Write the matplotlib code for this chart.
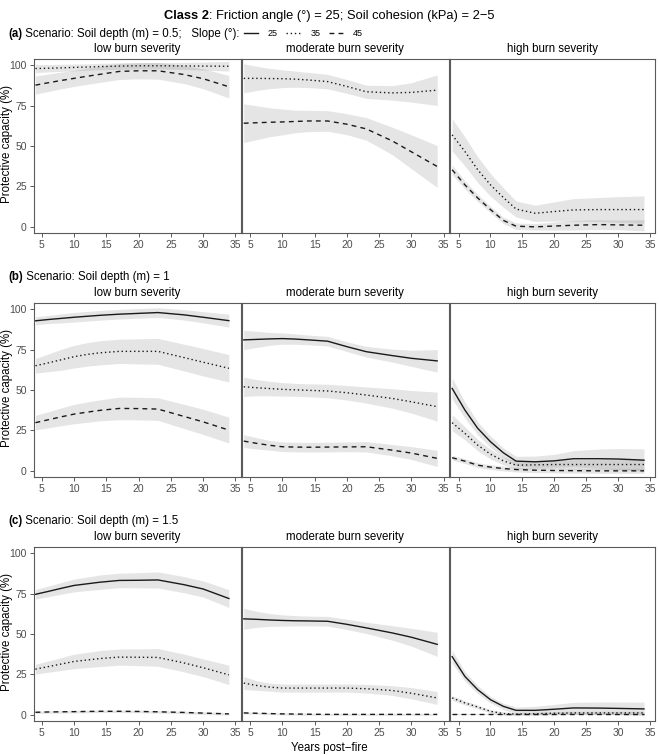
import matplotlib
matplotlib.use("Agg")
import matplotlib.pyplot as plt
import numpy as np
from matplotlib.lines import Line2D

plt.rcParams["font.family"] = ["Liberation Sans", "DejaVu Sans"]

# ---- data ------------------------------------------------------------------
years = [4, 6, 8, 10, 12, 14, 17, 20, 23, 27, 30, 34]
severities = ["low burn severity", "moderate burn severity", "high burn severity"]
slopes = [25, 35, 45]
depths = ["0.5", "1", "1.5"]
x_ticks = [5, 10, 15, 20, 25, 30, 35]
y_ticks = [0, 25, 50, 75, 100]

# soil depth 0.5 m (no 25 deg curve drawn)
d05_low_35 = [98.1, 98.3, 98.5, 98.8, 99.0, 99.3, 99.6, 99.8, 99.8, 99.7, 99.6, 99.5]
d05_low_35_ci = [2.5, 2.3, 2.2, 2.1, 2.0, 2.0, 2.0, 2.0, 2.0, 2.2, 2.5, 3.0]
d05_low_45 = [87.8, 89.3, 90.7, 92.0, 93.3, 94.5, 96.3, 96.7, 96.7, 94.4, 91.8, 86.8]
d05_low_45_ci = [5.6, 5.4, 5.2, 5.0, 5.0, 5.0, 5.0, 5.0, 5.2, 5.6, 6.2, 7.0]
d05_mod_35 = [92.0, 92.0, 91.9, 91.8, 91.5, 91.0, 90.0, 87.0, 83.7, 83.0, 83.3, 84.7]
d05_mod_35_ci = [9.0, 7.5, 6.3, 5.5, 5.0, 4.7, 4.5, 4.3, 4.1, 4.5, 6.0, 9.5]
d05_mod_45 = [64.2, 64.5, 64.8, 65.0, 65.3, 65.6, 65.6, 63.6, 60.7, 53.3, 46.5, 37.4]
d05_mod_45_ci = [12.0, 10.5, 9.0, 8.0, 7.0, 6.6, 6.4, 6.5, 7.0, 8.5, 10.5, 13.0]
d05_high_35 = [57.0, 46.7, 35.4, 26.0, 18.2, 11.0, 8.4, 9.5, 10.5, 10.7, 10.7, 10.7]
d05_high_35_ci = [10.0, 9.0, 8.0, 7.0, 6.0, 5.0, 5.0, 6.0, 7.0, 7.5, 8.0, 8.5]
d05_high_45 = [35.4, 26.0, 17.9, 10.7, 4.0, 0.4, 0.0, 0.5, 1.0, 1.4, 1.2, 1.0]
d05_high_45_ci = [3.0, 2.5, 2.2, 2.0, 2.0, 2.0, 2.0, 2.5, 3.0, 3.0, 3.0, 3.5]

# soil depth 1 m
d1_low_25 = [92.8, 93.6, 94.3, 95.0, 95.6, 96.2, 96.9, 97.4, 97.9, 96.5, 95.0, 92.9]
d1_low_25_ci = [2.5, 2.5, 2.8, 3.0, 3.0, 3.0, 3.0, 3.0, 3.0, 3.2, 3.5, 4.0]
d1_low_35 = [65.0, 66.8, 68.7, 70.6, 72.0, 73.0, 73.9, 73.9, 73.9, 70.1, 67.2, 63.4]
d1_low_35_ci = [4.5, 5.5, 6.5, 7.0, 7.3, 7.5, 7.5, 7.8, 8.0, 8.3, 8.5, 8.5]
d1_low_45 = [29.8, 31.6, 33.4, 35.1, 36.3, 37.4, 38.6, 38.5, 38.2, 33.7, 30.3, 25.2]
d1_low_45_ci = [4.5, 5.0, 5.5, 6.0, 6.3, 6.5, 7.0, 7.0, 7.0, 7.5, 7.8, 8.0]
d1_mod_25 = [81.0, 81.3, 81.6, 81.8, 81.5, 81.0, 80.2, 76.8, 73.7, 71.3, 69.6, 68.0]
d1_mod_25_ci = [6.0, 5.0, 4.0, 3.5, 3.2, 3.0, 3.0, 3.0, 3.3, 4.0, 5.0, 7.0]
d1_mod_35 = [52.0, 51.4, 50.9, 50.4, 50.1, 49.8, 49.4, 48.3, 46.9, 44.8, 42.7, 39.7]
d1_mod_35_ci = [6.0, 5.0, 4.5, 4.2, 4.0, 4.0, 4.2, 4.5, 5.0, 6.0, 7.0, 9.0]
d1_mod_45 = [18.4, 17.0, 15.8, 14.9, 14.7, 14.6, 14.7, 14.8, 14.9, 12.8, 11.0, 7.7]
d1_mod_45_ci = [4.0, 3.5, 3.0, 3.0, 3.0, 3.0, 3.0, 3.0, 3.2, 3.5, 4.0, 5.0]
d1_high_25 = [51.0, 37.6, 26.3, 18.0, 11.2, 6.0, 5.6, 6.2, 7.5, 7.5, 7.3, 6.6]
d1_high_25_ci = [6.5, 5.0, 4.0, 3.5, 3.0, 3.0, 3.5, 4.0, 5.0, 6.0, 6.5, 7.0]
d1_high_35 = [29.8, 23.2, 15.9, 10.3, 6.2, 3.5, 3.7, 3.9, 3.9, 3.9, 3.9, 3.9]
d1_high_35_ci = [5.0, 4.0, 3.5, 3.0, 2.5, 2.5, 2.5, 2.5, 3.0, 3.0, 3.0, 3.5]
d1_high_45 = [8.1, 6.0, 3.5, 2.3, 1.4, 0.8, 0.4, 0.2, 0.1, 0.0, 0.0, 0.0]
d1_high_45_ci = [1.5, 1.5, 1.5, 1.5, 1.5, 1.5, 1.5, 1.5, 1.5, 1.5, 1.5, 1.5]

# soil depth 1.5 m
d15_low_25 = [74.5, 76.3, 78.2, 80.0, 81.0, 82.0, 83.1, 83.2, 83.4, 80.5, 77.8, 71.9]
d15_low_25_ci = [3.0, 3.3, 3.6, 4.0, 4.2, 4.5, 4.5, 4.7, 5.0, 5.0, 5.0, 5.5]
d15_low_35 = [28.1, 29.7, 31.3, 32.9, 33.8, 34.7, 35.6, 35.5, 35.4, 32.0, 29.0, 24.6]
d15_low_35_ci = [3.0, 3.5, 4.0, 4.5, 4.7, 5.0, 5.0, 5.2, 5.5, 5.5, 5.5, 6.0]
d15_low_45 = [1.4, 1.6, 1.7, 1.8, 1.9, 2.0, 2.0, 1.9, 1.7, 1.3, 0.9, 0.4]
d15_low_45_ci = [0.8, 0.8, 0.8, 0.8, 0.8, 0.8, 0.8, 0.8, 0.8, 0.8, 0.8, 0.8]
d15_mod_25 = [59.3, 59.0, 58.6, 58.3, 58.1, 58.0, 57.8, 55.9, 53.7, 50.6, 47.9, 43.5]
d15_mod_25_ci = [6.5, 5.0, 4.0, 3.5, 3.2, 3.0, 3.0, 3.2, 3.5, 4.5, 5.5, 7.5]
d15_mod_35 = [19.5, 18.0, 17.0, 16.4, 16.4, 16.4, 16.4, 16.4, 16.0, 14.9, 13.2, 10.3]
d15_mod_35_ci = [4.0, 3.0, 2.5, 2.5, 2.5, 2.5, 2.5, 2.5, 2.7, 3.0, 3.5, 4.0]
d15_mod_45 = [1.0, 0.8, 0.6, 0.4, 0.3, 0.2, 0.1, 0.1, 0.1, 0.1, 0.1, 0.1]
d15_mod_45_ci = [0.6, 0.6, 0.6, 0.6, 0.6, 0.6, 0.6, 0.6, 0.6, 0.6, 0.6, 0.6]
d15_high_25 = [35.9, 23.6, 15.4, 9.2, 5.1, 2.6, 2.6, 3.3, 4.1, 4.0, 3.8, 3.5]
d15_high_25_ci = [4.0, 3.0, 2.5, 2.0, 2.0, 2.0, 2.5, 3.0, 3.5, 3.8, 4.0, 4.2]
d15_high_35 = [10.3, 7.2, 4.7, 2.0, 0.6, 0.3, 0.5, 0.8, 1.0, 1.0, 1.0, 1.0]
d15_high_35_ci = [1.5, 1.3, 1.2, 1.0, 1.0, 1.0, 1.0, 1.0, 1.0, 1.0, 1.0, 1.0]
d15_high_45 = [0.1, 0.1, 0.1, 0.1, 0.1, 0.1, 0.1, 0.1, 0.1, 0.1, 0.1, 0.1]
d15_high_45_ci = [0.4, 0.4, 0.4, 0.4, 0.4, 0.4, 0.4, 0.4, 0.4, 0.4, 0.4, 0.4]

panels = {
    ("0.5", 0): [(35, d05_low_35, d05_low_35_ci), (45, d05_low_45, d05_low_45_ci)],
    ("0.5", 1): [(35, d05_mod_35, d05_mod_35_ci), (45, d05_mod_45, d05_mod_45_ci)],
    ("0.5", 2): [(35, d05_high_35, d05_high_35_ci), (45, d05_high_45, d05_high_45_ci)],
    ("1", 0): [(25, d1_low_25, d1_low_25_ci), (35, d1_low_35, d1_low_35_ci), (45, d1_low_45, d1_low_45_ci)],
    ("1", 1): [(25, d1_mod_25, d1_mod_25_ci), (35, d1_mod_35, d1_mod_35_ci), (45, d1_mod_45, d1_mod_45_ci)],
    ("1", 2): [(25, d1_high_25, d1_high_25_ci), (35, d1_high_35, d1_high_35_ci), (45, d1_high_45, d1_high_45_ci)],
    ("1.5", 0): [(25, d15_low_25, d15_low_25_ci), (35, d15_low_35, d15_low_35_ci), (45, d15_low_45, d15_low_45_ci)],
    ("1.5", 1): [(25, d15_mod_25, d15_mod_25_ci), (35, d15_mod_35, d15_mod_35_ci), (45, d15_mod_45, d15_mod_45_ci)],
    ("1.5", 2): [(25, d15_high_25, d15_high_25_ci), (35, d15_high_35, d15_high_35_ci), (45, d15_high_45, d15_high_45_ci)],
}

# ---- styling / layout --------------------------------------------------------
W, H = 659, 755
LINE_COLOR = "#1a1a1a"
FRAME_COLOR = "#5a5a5a"
TICK_LABEL_COLOR = "#4d4d4d"
LINE_STYLES = {25: "-", 35: (0, (1, 2)), 45: (0, (3.5, 3))}
TEXT_SIZE = 8.3

col_edges = [(33.5, 240.5), (241.8, 448.8), (450.2, 655.5)]
row_edges = [(59, 233.3), (302.7, 477.3), (546.7, 721)]
row_label_y = [34, 277, 521]
strip_gap = 10


def fx(x):
    return x / W


def fy(y):
    return 1 - y / H


fig = plt.figure(figsize=(W / 100, H / 100), dpi=100)
renderer = fig.canvas.get_renderer()


def put_pieces(x_px, y_px, pieces, size):
    """Write (text, weight) pieces one after another; return the end x in px."""
    x = x_px
    for text, weight in pieces:
        t = fig.text(fx(x), fy(y_px), text, fontsize=size, fontweight=weight,
                     ha="left", va="center", color="black")
        x = t.get_window_extent(renderer).x1
    return x


def text_width(pieces, size):
    total = 0
    for text, weight in pieces:
        t = fig.text(0, 0, text, fontsize=size, fontweight=weight)
        total += t.get_window_extent(renderer).width
        t.remove()
    return total


for r, depth in enumerate(depths):
    top, bottom = row_edges[r]
    for c, severity in enumerate(severities):
        left, right = col_edges[c]
        ax = fig.add_axes([fx(left), fy(bottom), fx(right - left), (bottom - top) / H])
        for slope, mean, ci in panels[(depth, c)]:
            mean = np.asarray(mean)
            ci = np.asarray(ci)
            ax.fill_between(years, mean - ci, mean + ci, color="0.5", alpha=0.2, linewidth=0)
            ax.plot(years, mean, color=LINE_COLOR, lw=1.0, ls=LINE_STYLES[slope])
        ax.set_xlim(3.7, 35.8)
        ax.set_ylim(-4, 104)
        ax.set_xticks(x_ticks)
        ax.tick_params(axis="both", direction="out", length=2.6, width=0.7,
                       color=FRAME_COLOR, labelcolor=TICK_LABEL_COLOR, labelsize=7.5, pad=2.2)
        if c == 0:
            ax.set_yticks(y_ticks)
        else:
            ax.set_yticks([])
        for spine in ax.spines.values():
            spine.set_color(FRAME_COLOR)
            spine.set_linewidth(0.8)
        fig.text(fx((left + right) / 2), fy(top - strip_gap), severity,
                 fontsize=TEXT_SIZE, ha="center", va="center")

    fig.text(fx(7), fy((top + bottom) / 2 - 2), "Protective capacity (%)", fontsize=TEXT_SIZE,
             rotation=90, ha="center", va="center")

    letter = "(" + "abc"[r] + ")"
    text = " Scenario: Soil depth (m) = " + depth
    if r == 0:
        end = put_pieces(8, row_label_y[r], [(letter, "bold"), (text + ";   Slope (°):", "normal")], TEXT_SIZE)
        handles = [Line2D([], [], color=LINE_COLOR, lw=1.0, ls=LINE_STYLES[s]) for s in slopes]
        fig.legend(handles, [str(s) for s in slopes], loc="center left",
                   bbox_to_anchor=(fx(end + 4), fy(row_label_y[r])), ncol=3, frameon=False,
                   prop={"size": 6.5}, handlelength=1.6, handletextpad=1.1, columnspacing=0.9,
                   borderpad=0, borderaxespad=0)
    else:
        put_pieces(8, row_label_y[r], [(letter, "bold"), (text, "normal")], TEXT_SIZE)

title_pieces = [("Class 2", "bold"), (": Friction angle (°) = 25; Soil cohesion (kPa) = 2−5", "normal")]
title_size = 9.3
put_pieces(W / 2 - text_width(title_pieces, title_size) / 2, 16, title_pieces, title_size)

fig.text(0.5, fy(748), "Years post−fire", fontsize=TEXT_SIZE, ha="center", va="center")

fig.savefig("out.png", dpi=100)
